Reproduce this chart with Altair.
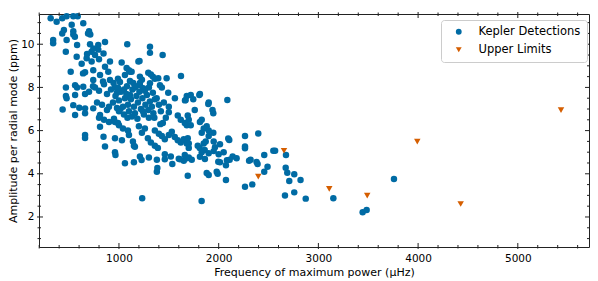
import altair as alt
import pandas as pd

# Kepler detections: frequency of maximum power (uHz) and amplitude (ppm)
det_freq = [
    315, 375, 431, 475, 542, 586, 642, 526, 542, 542, 700, 690, 712, 448, 431, 340, 340, 475, 558, 580,
    467, 710, 792, 860, 725, 760, 845, 576, 676, 743, 793, 680, 910, 726, 626, 800,
    1083, 1311, 1311, 1438, 1206, 1195, 1027, 860, 516, 660, 640, 742, 810, 893, 910, 1077, 1110, 1060,
    1100, 1127, 1210, 1294, 1394, 1478, 1622, 1320, 1340, 1360, 1230, 946,
    468, 468, 475, 560, 580, 642, 660, 560, 700, 742, 740, 840, 850, 990, 1010, 990, 960, 1110, 1143,
    1160, 1210, 1243, 1311, 1411, 1494, 1378, 1561, 1669, 1745, 1806, 2087, 1210, 1300, 1430, 760, 800,
    880, 980, 920, 1050, 1080,
    435, 542, 602, 660, 742, 560, 810, 880, 780, 830, 900, 940, 980, 660, 800, 850, 900, 950, 990, 810,
    660, 660, 845, 860,
    965, 1000, 1020, 1040, 1060, 1075, 1090, 1100, 1120, 1135, 1150, 1160, 1175, 1190, 1205, 1220, 1235,
    1250, 1265, 1280, 1295, 1310, 1330, 1345, 1360, 1015, 1050, 1085, 1130, 1185, 1240, 1300, 1355, 1000,
    1110, 1170, 1260, 1340, 1400, 1420, 1450, 1470, 1500, 1500, 1415, 1440, 1590, 1620, 1660, 1680, 1662,
    960, 1000, 1040, 1090, 960, 1030, 960, 965, 1360, 1400, 1430, 1460, 1500, 1530, 1560, 1590, 1620, 1650,
    1700, 1290, 1320, 1360, 1390, 1140, 1150, 1160, 1210, 1300, 1380, 1460, 1520, 1600, 1650, 1200, 1260,
    1100, 1230,
    1680, 1720, 1812, 1896, 1938, 1946, 1900, 1760, 1690, 1700, 1720, 1830, 1880, 1900, 1850, 1812, 1946,
    1850, 1870, 2013, 1963, 2106, 2096, 1830, 1900, 1950, 1690, 1680, 1700, 1790, 1810, 1830, 1860, 1900,
    1950, 2000, 2050, 1812, 1862, 1996, 2083, 2073, 2180, 2140, 2110, 1660, 1700, 1730, 1612, 1679, 1535,
    1460, 1385, 1380, 1227, 1150, 1060, 1690, 1880, 1900, 1980, 1990, 2013, 2073, 1233, 1829,
    2264, 2397, 2264, 2264, 2305, 2320, 2390, 2380, 2457, 2490, 2457, 2548, 2566, 2675, 2672, 2688, 2758,
    2708, 2821, 2264, 2337, 2665, 2758, 2873, 3150, 3444, 3484, 3758,
]
det_amp = [
    11.2, 11.04, 11.2, 11.3, 11.3, 11.3, 10.97, 10.9, 10.6, 10.45, 10.6, 10.5, 10.45, 10.66, 10.5, 10.2, 10.05, 10.2, 10.35, 9.96,
    9.65, 10.0, 9.96, 10.1, 9.65, 9.5, 9.57, 9.42, 9.35, 9.8, 9.75, 9.55, 9.2, 9.2, 9.1, 9.3,
    10.0, 9.88, 9.6, 9.5, 9.22, 9.2, 9.15, 8.96, 8.73, 8.7, 8.65, 8.8, 8.57, 8.73, 8.34, 8.9, 8.73, 8.57,
    8.8, 8.73, 8.5, 8.68, 8.42, 8.42, 8.53, 8.6, 8.5, 8.4, 8.35, 8.2,
    8.0, 7.6, 7.5, 8.1, 8.0, 8.03, 7.7, 7.65, 7.8, 8.34, 8.05, 8.27, 8.15, 8.4, 8.25, 7.98, 8.0, 8.3, 8.2,
    8.0, 8.2, 7.96, 8.19, 8.1, 7.75, 7.5, 7.5, 7.42, 7.45, 7.65, 7.42, 8.1, 8.0, 8.0, 8.0, 7.85,
    7.7, 7.75, 7.9, 7.9, 8.05,
    6.98, 7.18, 7.06, 7.03, 7.03, 6.72, 6.72, 6.95, 7.3, 7.2, 7.1, 7.3, 7.05, 6.8, 6.6, 6.5, 6.4, 6.55, 6.35, 6.18,
    5.8, 5.66, 5.72, 5.26,
    7.6, 7.4, 7.8, 7.1, 7.5, 7.7, 7.2, 6.9, 7.45, 7.9, 7.1, 6.8, 7.6, 7.3, 7.8, 7.0, 7.5,
    6.75, 7.2, 7.65, 6.95, 7.35, 7.1, 6.8, 7.45, 7.0, 6.75, 6.6, 6.65, 6.55, 6.9, 6.6, 6.6, 6.9,
    7.65, 8.05, 7.85, 7.75, 7.2, 6.9, 7.3, 6.6, 7.1, 6.85, 6.3, 6.35, 6.7, 6.5, 6.35, 6.25, 7.4,
    6.4, 6.25, 6.1, 6.0, 5.65, 5.55, 5.0, 4.87, 6.0, 5.85, 5.75, 5.6, 5.8, 5.95, 5.7, 5.55, 5.45, 5.6,
    5.4, 5.65, 5.45, 5.3, 5.2, 5.5, 5.3, 5.25, 4.8, 4.75, 4.65, 4.9, 4.8, 4.7, 4.6, 6.2, 6.1,
    5.8, 5.9,
    7.6, 7.65, 7.7, 7.23, 6.95, 6.8, 7.3, 6.95, 6.7, 6.5, 6.25, 6.5, 6.2, 6.0, 6.1, 6.4, 5.9,
    5.4, 5.5, 5.37, 5.23, 5.57, 5.64, 5.9, 5.75, 5.5, 5.65, 5.4, 5.2, 5.3, 5.2, 5.0, 5.1, 4.95,
    5.05, 4.9, 5.0, 4.79, 4.68, 4.56, 4.63, 4.4, 4.72, 4.8, 4.65, 4.87, 4.75, 4.65, 4.67, 4.72, 4.45,
    4.67, 4.27, 4.1, 4.64, 4.53, 4.49, 3.91, 4.04, 3.94, 4.1, 4.0, 4.53, 3.71, 2.87, 2.74,
    5.75, 5.87, 5.26, 5.18, 4.6, 4.65, 4.45, 4.55, 4.87, 4.33, 4.1, 5.07, 5.07, 4.87, 4.28, 4.05, 3.98,
    3.67, 3.71, 3.4, 3.51, 2.99, 3.14, 2.85, 2.87, 2.22, 2.32, 3.76,
]

# Upper limits
ul_freq = [2397, 2655, 3109, 3490, 3992, 4427, 5433]
ul_amp = [3.87, 5.07, 3.3, 2.99, 5.49, 2.6, 6.95]

series_names = ["Kepler Detections", "Upper Limits"]
series_colors = ["#006BA4", "#D55E00"]
series_shapes = ["circle", "triangle-down"]

x_major = [1000, 2000, 3000, 4000, 5000]
x_minor = [v for v in range(200, 5800, 200) if v % 1000 != 0]
y_major = [2, 4, 6, 8, 10]
y_minor = [v / 2 for v in range(2, 23) if v % 4 != 0]

W, H = 550, 233
FONT = "DejaVu Sans"
INK = "#222222"

xscale = alt.Scale(domain=[198, 5714], nice=False, zero=False)
yscale = alt.Scale(domain=[0.61, 11.4], nice=False, zero=False)
xaxis = alt.Axis(values=x_major, format="d", ticks=False, domain=False, grid=False,
                 title="Frequency of maximum power (μHz)", labelPadding=6, titlePadding=3)
yaxis = alt.Axis(values=y_major, format="d", ticks=False, domain=False, grid=False,
                 title="Amplitude per radial mode (ppm)", labelPadding=5, titlePadding=2)

df = pd.DataFrame({
    "freq": det_freq + ul_freq,
    "amp": det_amp + ul_amp,
    "kind": [series_names[0]] * len(det_freq) + [series_names[1]] * len(ul_freq),
})

legend = alt.Legend(title=None, orient="none", legendX=402, legendY=6)

points = alt.Chart(df).mark_point(filled=True, opacity=1, size=42).encode(
    x=alt.X("freq:Q", scale=xscale, axis=xaxis),
    y=alt.Y("amp:Q", scale=yscale, axis=yaxis),
    color=alt.Color("kind:N", scale=alt.Scale(domain=series_names, range=series_colors),
                    legend=legend),
    shape=alt.Shape("kind:N", scale=alt.Scale(domain=series_names, range=series_shapes),
                    legend=legend),
    order=alt.Order("kind:N"),
)


def xticks(vals, inner, outer):
    d = pd.DataFrame({"freq": vals})
    base = alt.Chart(d).mark_rule(color=INK, strokeWidth=1)
    bottom = base.encode(x=alt.X("freq:Q", scale=xscale, axis=xaxis),
                         y=alt.value(H - inner), y2=alt.value(H + outer))
    top = base.encode(x=alt.X("freq:Q", scale=xscale, axis=xaxis),
                      y=alt.value(-outer), y2=alt.value(inner))
    return [bottom, top]


def yticks(vals, inner, outer):
    d = pd.DataFrame({"amp": vals})
    base = alt.Chart(d).mark_rule(color=INK, strokeWidth=1)
    left = base.encode(y=alt.Y("amp:Q", scale=yscale, axis=yaxis),
                       x=alt.value(-outer), x2=alt.value(inner))
    right = base.encode(y=alt.Y("amp:Q", scale=yscale, axis=yaxis),
                        x=alt.value(W - inner), x2=alt.value(W + outer))
    return [left, right]


layers = [points] + (xticks(x_major, 4, 2) + xticks(x_minor, 2, 1.5)
                     + yticks(y_major, 4, 2) + yticks(y_minor, 2, 1.5))

chart = alt.layer(*layers).properties(
    width=W, height=H,
    autosize=alt.AutoSizeParams(type="none"),
    padding={"left": 31, "top": 6, "right": 1, "bottom": 34},
).configure_view(
    stroke=INK, strokeWidth=1
).configure_axis(
    labelFont=FONT, titleFont=FONT, labelFontSize=10.5, titleFontSize=11,
    labelColor="black", titleColor="black", titleFontWeight="normal",
).configure_legend(
    labelFont=FONT, labelFontSize=11.5, labelColor="black",
    strokeColor="#cccccc", fillColor="white", cornerRadius=3,
    padding=6, rowPadding=5, symbolSize=34, labelOffset=14, symbolOffset=6,
)

chart.save("out.html", embed_options={"renderer": "svg", "actions": False})
